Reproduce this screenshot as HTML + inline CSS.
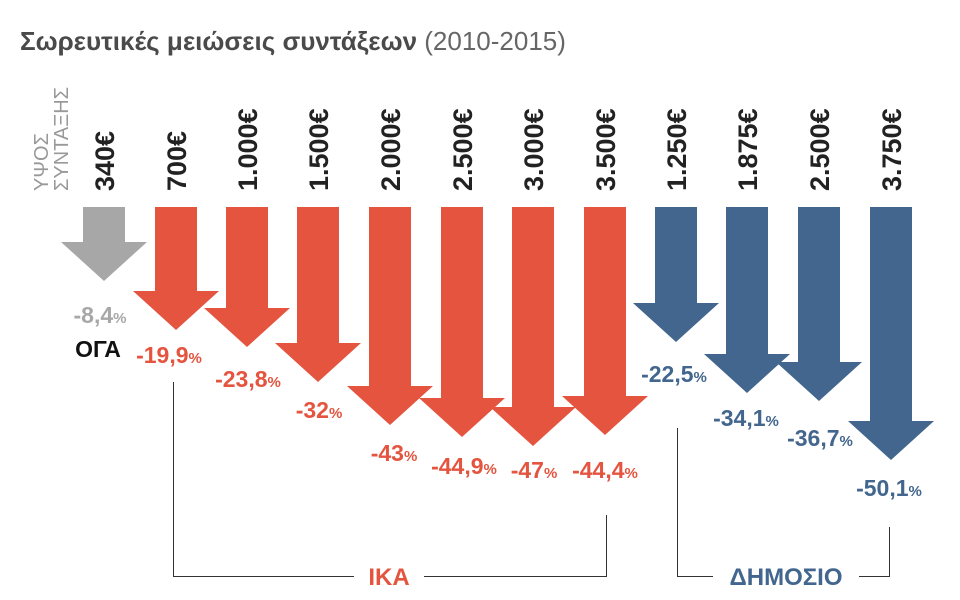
<!DOCTYPE html>
<html><head><meta charset="utf-8"><style>
html,body{margin:0;padding:0;background:#fff;}
svg{display:block;font-family:"Liberation Sans","DejaVu Sans",sans-serif;}
</style></head><body>
<svg width="960" height="600" viewBox="0 0 960 600" xmlns="http://www.w3.org/2000/svg">
<text x="20" y="50" font-size="26" fill="#4a4a4a"><tspan font-weight="bold">Σωρευτικές μειώσεις συντάξεων</tspan><tspan fill="#666"> (2010-2015)</tspan></text>

<g fill="#999" font-size="20">
<text transform="translate(48,191) rotate(-90)">ΥΨΟΣ</text>
<text transform="translate(68,191) rotate(-90)">ΣΥΝΤΑΞΗΣ</text>
</g>
<g fill="#222" font-size="27" font-weight="bold">
<text transform="translate(114,191) rotate(-90)">340€</text>
<text transform="translate(186,191) rotate(-90)">700€</text>
<text transform="translate(257,191) rotate(-90)">1.000€</text>
<text transform="translate(328,191) rotate(-90)">1.500€</text>
<text transform="translate(400,191) rotate(-90)">2.000€</text>
<text transform="translate(472,191) rotate(-90)">2.500€</text>
<text transform="translate(543,191) rotate(-90)">3.000€</text>
<text transform="translate(615,191) rotate(-90)">3.500€</text>
<text transform="translate(686,191) rotate(-90)">1.250€</text>
<text transform="translate(757,191) rotate(-90)">1.875€</text>
<text transform="translate(829,191) rotate(-90)">2.500€</text>
<text transform="translate(901,191) rotate(-90)">3.750€</text>
</g>

<g>
<polygon fill="#a7a7a7" points="83,207 125,207 125,242 147,242 104,281 61,242 83,242"/>
<polygon fill="#e4543f" points="155,207 197,207 197,291 219,291 176,330 133,291 155,291"/>
<polygon fill="#e4543f" points="226,207 268,207 268,308 290,308 247,347 204,308 226,308"/>
<polygon fill="#e4543f" points="297,207 339,207 339,343 361,343 318,382 275,343 297,343"/>
<polygon fill="#e4543f" points="369,207 411,207 411,386 433,386 390,425 347,386 369,386"/>
<polygon fill="#e4543f" points="441,207 483,207 483,398 505,398 462,437 419,398 441,398"/>
<polygon fill="#e4543f" points="512,207 554,207 554,407 576,407 533,446 490,407 512,407"/>
<polygon fill="#e4543f" points="584,207 626,207 626,396 648,396 605,435 562,396 584,396"/>
<polygon fill="#43668e" points="655,207 697,207 697,303 719,303 676,342 633,303 655,303"/>
<polygon fill="#43668e" points="726,207 768,207 768,354 790,354 747,393 704,354 726,354"/>
<polygon fill="#43668e" points="798,207 840,207 840,362 862,362 819,401 776,362 798,362"/>
<polygon fill="#43668e" points="870,207 912,207 912,421 934,421 891,460 848,421 870,421"/>
</g>

<g font-size="23" font-weight="bold" text-anchor="middle">
<text x="100" y="323" fill="#a7a7a7">-8,4<tspan font-size="15">%</tspan></text>
<text x="98" y="357" fill="#111">ΟΓΑ</text>
<text x="169" y="363" fill="#e4543f">-19,9<tspan font-size="15">%</tspan></text>
<text x="248" y="387" fill="#e4543f">-23,8<tspan font-size="15">%</tspan></text>
<text x="319" y="418" fill="#e4543f">-32<tspan font-size="15">%</tspan></text>
<text x="394" y="461" fill="#e4543f">-43<tspan font-size="15">%</tspan></text>
<text x="464" y="474" fill="#e4543f">-44,9<tspan font-size="15">%</tspan></text>
<text x="534" y="478" fill="#e4543f">-47<tspan font-size="15">%</tspan></text>
<text x="605" y="478" fill="#e4543f">-44,4<tspan font-size="15">%</tspan></text>
<text x="674" y="382" fill="#43668e">-22,5<tspan font-size="15">%</tspan></text>
<text x="746" y="426" fill="#43668e">-34,1<tspan font-size="15">%</tspan></text>
<text x="820" y="446" fill="#43668e">-36,7<tspan font-size="15">%</tspan></text>
<text x="889" y="496" fill="#43668e">-50,1<tspan font-size="15">%</tspan></text>
</g>

<g stroke="#333" stroke-width="1" fill="none">
<polyline points="173.5,382 173.5,576.5 354,576.5"/>
<polyline points="424,576.5 606.5,576.5 606.5,515"/>
<polyline points="677.5,428 677.5,576.5 713,576.5"/>
<polyline points="859,576.5 889.5,576.5 889.5,527"/>
</g>
<text x="389" y="585" font-size="24" font-weight="bold" fill="#e4543f" text-anchor="middle">ΙΚΑ</text>
<text x="786" y="585" font-size="24" font-weight="bold" fill="#43668e" text-anchor="middle">ΔΗΜΟΣΙΟ</text>
</svg>
</body></html>
